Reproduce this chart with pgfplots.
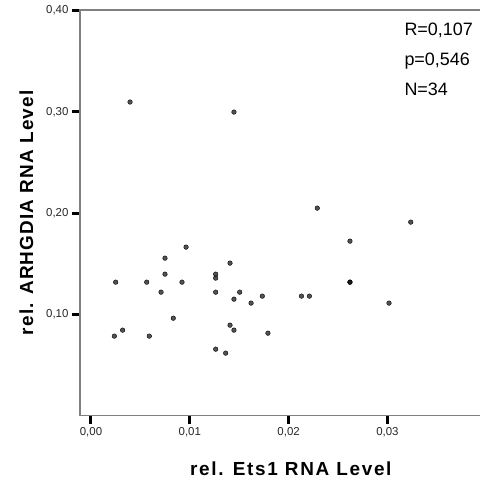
\documentclass[border=0pt]{standalone}
\usepackage{pgfplots}
\pgfplotsset{compat=1.18}
\usepackage{fontspec}
\setmainfont{Liberation Sans}
\newfontfamily\xlblfont[LetterSpace=9]{Liberation Sans}
\newfontfamily\ylblfont[LetterSpace=6]{Liberation Sans}
\begin{document}
\begin{tikzpicture}
\begin{axis}[
  scale only axis,
  width=400bp, height=405.7bp,
  xmin=-0.001113, xmax=0.03937,
  ymin=0, ymax=0.4007,
  scaled x ticks=false, scaled y ticks=false,
  axis line style={draw=none},
  xtick={0,0.01,0.02,0.03},
  xticklabels={{0,00},{0,01},{0,02},{0,03}},
  ytick={0.1,0.2,0.3,0.4},
  yticklabels={{0,10},{0,20},{0,30},{0,40}},
  xtick pos=bottom, ytick pos=left,
  tick align=outside,
  major tick length=8bp,
  tick style={black, line width=3bp},
  ticklabel style={font=\fontsize{11.5}{12}\selectfont, text=black!85},
  /pgf/number format/assume math mode=true,
  xlabel={rel. Ets1 RNA Level},
  ylabel={rel. ARHGDIA RNA Level},
  xlabel style={font=\xlblfont\bfseries\fontsize{19}{20}\selectfont, at={(axis description cs:0.527,-0.1486)}, anchor=base},
  ylabel style={font=\ylblfont\bfseries\fontsize{19}{20}\selectfont, at={(axis description cs:-0.1175,0.5)}, rotate=0, anchor=base},
  clip=false,
]
\draw[black!50, line width=1.5bp] (rel axis cs:1,1) -- (rel axis cs:0,1) -- (rel axis cs:0,0) -- (rel axis cs:1,0);
\addplot[only marks, mark=*, mark size=2.3bp, mark options={draw=none, fill=black, fill opacity=0.68}] coordinates {
(0.00962,0.1665)
(0.00749,0.1556)
(0.00749,0.1398)
(0.0025,0.1319)
(0.00564,0.1319)
(0.00921,0.1319)
(0.00709,0.122)
(0.00833,0.0963)
(0.0032,0.0845)
(0.00236,0.0786)
(0.0059,0.0786)
(0.01407,0.1507)
(0.01262,0.1398)
(0.01262,0.1359)
(0.01262,0.122)
(0.01505,0.122)
(0.01447,0.1151)
(0.0162,0.1112)
(0.01734,0.1181)
(0.0213,0.1181)
(0.0221,0.1181)
(0.01407,0.0894)
(0.01447,0.0845)
(0.01791,0.0815)
(0.01262,0.0657)
(0.01363,0.0618)
(0.0229,0.205)
(0.03236,0.1912)
(0.02621,0.1724)
(0.02621,0.1319)
(0.02621,0.1319)
(0.03016,0.1112)
(0.00395,0.3098)
(0.01447,0.2999)
};
\node[anchor=base west, font=\fontsize{18}{20}\selectfont] at (axis description cs:0.8025,0.936) {R=0,107};
\node[anchor=base west, font=\fontsize{18}{20}\selectfont] at (axis description cs:0.8025,0.8644) {p=0,546};
\node[anchor=base west, font=\fontsize{18}{20}\selectfont] at (axis description cs:0.8025,0.7888) {N=34};
\end{axis}
\path[use as bounding box] (-80bp,-69.3bp) rectangle (400bp,415.7bp);
\end{tikzpicture}
\end{document}
